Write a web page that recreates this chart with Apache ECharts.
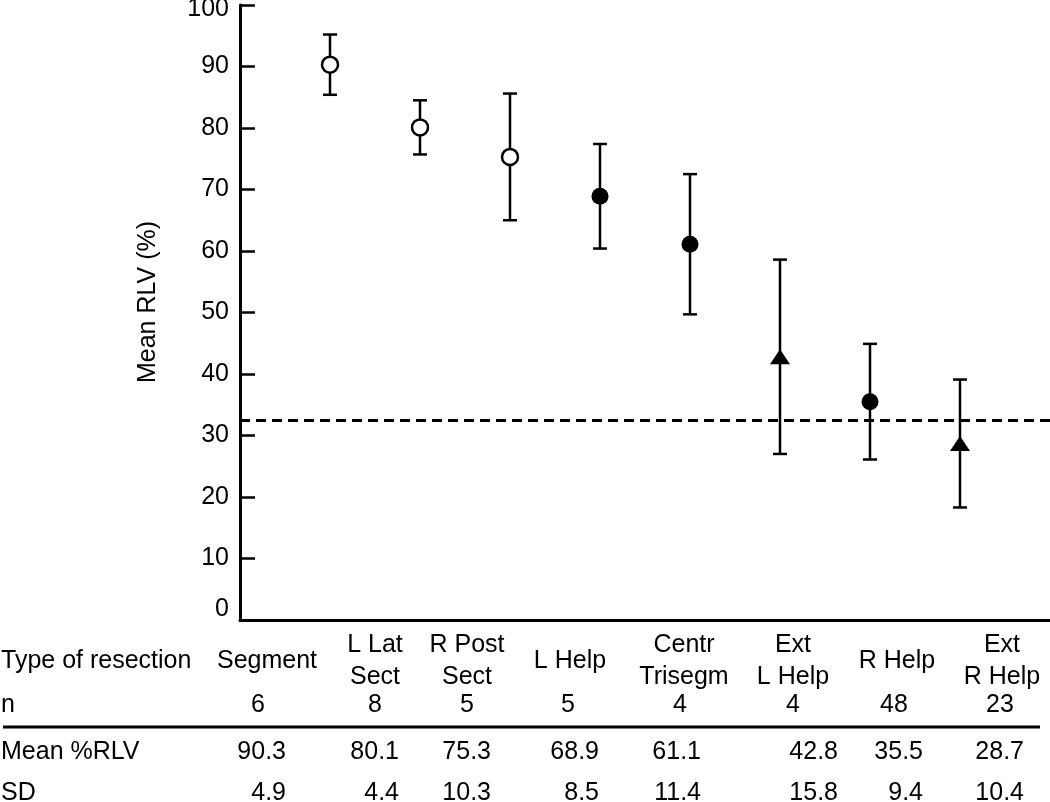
<!DOCTYPE html>
<html><head><meta charset="utf-8">
<script src="https://cdn.jsdelivr.net/npm/echarts@6/dist/echarts.min.js"></script>
<style>html,body{margin:0;padding:0;background:#fff}#c{width:1050px;height:802px}</style>
</head><body><div id="c"></div>
<script>
// ---- data ----
const categories = ['Segment', 'L Lat\nSect', 'R Post\nSect', 'L Help', 'Centr\nTrisegm', 'Ext\nL Help', 'R Help', 'Ext\nR Help'];
const nValues = [6, 8, 5, 5, 4, 4, 48, 23];
const meanRLV = [90.3, 80.1, 75.3, 68.9, 61.1, 42.8, 35.5, 28.7];
const sdRLV = [4.9, 4.4, 10.3, 8.5, 11.4, 15.8, 9.4, 10.4];
const groups = ['open', 'open', 'open', 'filled', 'filled', 'triangle', 'filled', 'triangle'];
const thresholdRLV = 32.5;
const rowLabels = ['Type of resection', 'n', 'Mean %RLV', 'SD'];
const yAxisTitle = 'Mean RLV (%)';

// ---- layout ----
const FONT = "'Liberation Sans', Arial, Helvetica, sans-serif";
const FS = 25;
const catX = [267, 375, 467, 570, 684, 793, 897, 1002];
const nX = [258, 375, 467, 568, 680, 793, 894, 1000];
const numRightX = [286, 399, 491, 599, 701, 838, 923, 1024];
const rowY = {cat: 661, n: 705, mean: 752, sd: 793};

const chart = echarts.init(document.getElementById('c'), null, {renderer: 'canvas'});

function pts(g) {
  const out = [];
  meanRLV.forEach((m, i) => { if (groups[i] === g) out.push([i + 1, m]); });
  return out;
}
const errData = meanRLV.map((m, i) => [i + 1, m - sdRLV[i], m + sdRLV[i]]);

const graphics = [];
const txt = (text, x, y, align) => graphics.push({
  type: 'text', x: x, y: y, silent: true,
  style: {text: text, fill: '#000', fontSize: FS, fontFamily: FONT, align: align, verticalAlign: 'middle', lineHeight: 32}
});

txt(rowLabels[0], 1, rowY.cat, 'left');
txt(rowLabels[1], 1, rowY.n, 'left');
txt(rowLabels[2], 1, rowY.mean, 'left');
txt(rowLabels[3], 1, rowY.sd, 'left');
categories.forEach((c, i) => {
  txt(c, catX[i], rowY.cat, 'center');
  txt(String(nValues[i]), nX[i], rowY.n, 'center');
  txt(meanRLV[i].toFixed(1), numRightX[i], rowY.mean, 'right');
  txt(sdRLV[i].toFixed(1), numRightX[i], rowY.sd, 'right');
});
graphics.push({type: 'line', silent: true, shape: {x1: 3, y1: 727, x2: 1040, y2: 727}, style: {stroke: '#000', lineWidth: 3}});
graphics.push({type: 'text', x: 148, y: 302, rotation: Math.PI / 2, silent: true,
  style: {text: yAxisTitle, fill: '#000', fontSize: FS, fontFamily: FONT, align: 'center', verticalAlign: 'middle'}});

const option = {
  animation: false,
  backgroundColor: '#fff',
  grid: {left: 240, right: 0, top: 5, bottom: 182, containLabel: false, outerBoundsMode: 'none'},
  xAxis: {
    type: 'value', min: 0, max: 9,
    axisLine: {show: true, onZero: false, lineStyle: {color: '#000', width: 3}},
    axisTick: {show: false}, axisLabel: {show: false}, splitLine: {show: false}
  },
  yAxis: {
    type: 'value', min: 0, max: 100, interval: 10,
    axisLine: {show: true, lineStyle: {color: '#000', width: 3}},
    axisTick: {show: true, inside: true, length: 15, lineStyle: {color: '#000', width: 2.5}},
    axisLabel: {
      color: '#000', fontSize: FS, fontFamily: FONT, margin: 11,
      formatter: v => v === 0 ? '{z|0}' : (v === 100 ? '{t|100}' : String(v)),
      rich: {
        z: {fontSize: FS, fontFamily: FONT, color: '#000', padding: [0, 0, 22, 0]},
        t: {fontSize: FS, fontFamily: FONT, color: '#000', padding: [8, 0, 0, 0]}
      }
    },
    splitLine: {show: false}
  },
  graphic: graphics,
  series: [
    {
      type: 'custom', z: 2, silent: true,
      data: errData,
      renderItem: function (params, api) {
        const x = api.value(0), lo = api.value(1), hi = api.value(2);
        const a = api.coord([x, lo]), b = api.coord([x, hi]);
        const hw = 7;
        const st = {stroke: '#000', lineWidth: 2.5};
        return {type: 'group', children: [
          {type: 'line', shape: {x1: a[0], y1: a[1], x2: b[0], y2: b[1]}, style: st},
          {type: 'line', shape: {x1: a[0] - hw, y1: a[1], x2: a[0] + hw, y2: a[1]}, style: st},
          {type: 'line', shape: {x1: b[0] - hw, y1: b[1], x2: b[0] + hw, y2: b[1]}, style: st}
        ]};
      },
      markLine: {
        silent: true, symbol: 'none', label: {show: false},
        lineStyle: {color: '#000', width: 3, type: [10, 6]},
        data: [{yAxis: thresholdRLV}]
      }
    },
    {
      type: 'scatter', z: 5, silent: true, data: pts('open'),
      symbol: 'circle', symbolSize: 16,
      itemStyle: {color: '#fff', borderColor: '#000', borderWidth: 2.5, opacity: 1}
    },
    {
      type: 'scatter', z: 5, silent: true, data: pts('filled'),
      symbol: 'circle', symbolSize: 17,
      itemStyle: {color: '#000', opacity: 1}
    },
    {
      type: 'scatter', z: 5, silent: true, data: pts('triangle'),
      symbol: 'triangle', symbolSize: [20, 15],
      itemStyle: {color: '#000', opacity: 1}
    }
  ]
};
chart.setOption(option);
</script>
</body></html>
